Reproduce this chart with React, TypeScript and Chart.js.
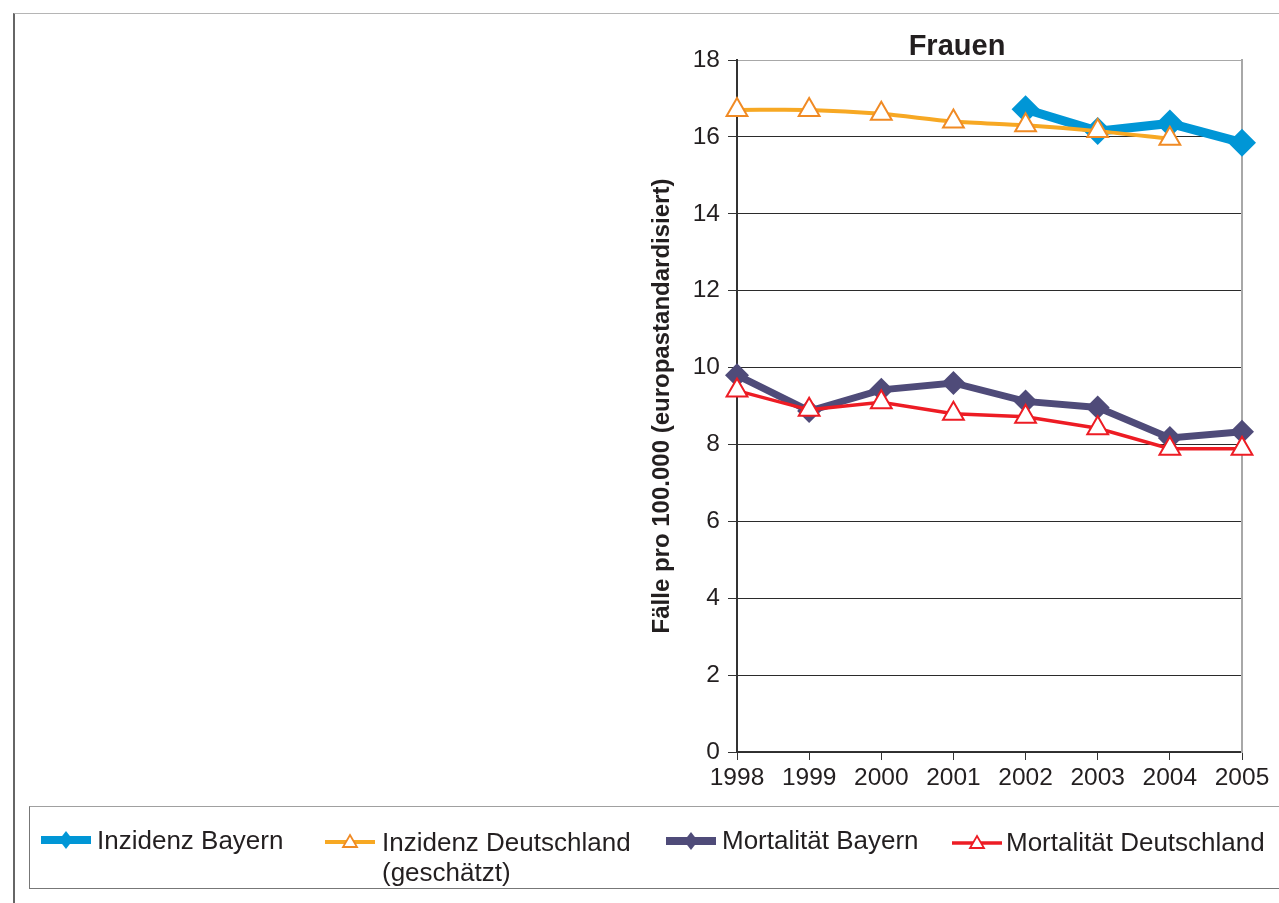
import React, { useEffect, useRef } from 'react';
import { Chart, registerables } from 'chart.js';

Chart.register(...registerables);

const years = ['1998', '1999', '2000', '2001', '2002', '2003', '2004', '2005'];
const inzidenzBayern = [null, null, null, null, 16.72, 16.15, 16.35, 15.85];
const inzidenzDeutschland = [16.7, 16.7, 16.6, 16.4, 16.3, 16.15, 15.95, null];
const mortalitaetBayern = [9.8, 8.87, 9.42, 9.6, 9.12, 8.96, 8.17, 8.33];
const mortalitaetDeutschland = [9.4, 8.9, 9.1, 8.8, 8.72, 8.42, 7.89, 7.89];
const seriesNames = [
  'Inzidenz Bayern',
  'Inzidenz Deutschland (geschätzt)',
  'Mortalität Bayern',
  'Mortalität Deutschland',
];
const titleText = 'Frauen';
const yTitle = 'Fälle pro 100.000 (europastandardisiert)';

const FONT = '"Liberation Sans", Arial, Helvetica, sans-serif';
const TEXT = '#231f20';
const BLUE = '#0096d6';
const ORANGE_LINE = '#f7a823';
const ORANGE_MARK = '#f08a24';
const PURPLE = '#4f4b79';
const RED = '#ed1c24';

function Sample({ color, width, marker, markerColor }: { color: string; width: number; marker: 'diamond' | 'triangle'; markerColor: string }) {
  return (
    <svg width={50} height={24} viewBox="0 0 50 24" style={{ display: 'block' }}>
      <line x1={0} y1={12} x2={50} y2={12} stroke={color} strokeWidth={width} />
      {marker === 'diamond' ? (
        <polygon points="25,3 32,12 25,21 18,12" fill={markerColor} />
      ) : (
        <polygon points="25,5 32,17 18,17" fill="#fff" stroke={markerColor} strokeWidth={1.8} />
      )}
    </svg>
  );
}

export default function App() {
  const ref = useRef<HTMLCanvasElement>(null);

  useEffect(() => {
    const canvas = ref.current;
    if (!canvas) return;
    const chart = new Chart(canvas, {
      type: 'line',
      data: {
        labels: years,
        datasets: [
          {
            label: seriesNames[0],
            data: inzidenzBayern,
            borderColor: BLUE,
            backgroundColor: BLUE,
            borderWidth: 9,
            pointStyle: 'rectRot',
            pointRadius: 14,
            pointBackgroundColor: BLUE,
            pointBorderColor: BLUE,
            pointBorderWidth: 0,
            tension: 0,
            order: 4,
            clip: false,
          },
          {
            label: seriesNames[1],
            data: inzidenzDeutschland,
            borderColor: ORANGE_LINE,
            backgroundColor: '#ffffff',
            borderWidth: 4,
            pointStyle: 'triangle',
            pointRadius: 12,
            pointBackgroundColor: '#ffffff',
            pointBorderColor: ORANGE_MARK,
            pointBorderWidth: 2,
            tension: 0.3,
            order: 2,
            clip: false,
          },
          {
            label: seriesNames[2],
            data: mortalitaetBayern,
            borderColor: PURPLE,
            backgroundColor: PURPLE,
            borderWidth: 7,
            pointStyle: 'rectRot',
            pointRadius: 12,
            pointBackgroundColor: PURPLE,
            pointBorderColor: PURPLE,
            pointBorderWidth: 0,
            tension: 0,
            order: 3,
            clip: false,
          },
          {
            label: seriesNames[3],
            data: mortalitaetDeutschland,
            borderColor: RED,
            backgroundColor: '#ffffff',
            borderWidth: 3.5,
            pointStyle: 'triangle',
            pointRadius: 12,
            pointBackgroundColor: '#ffffff',
            pointBorderColor: RED,
            pointBorderWidth: 2,
            tension: 0,
            order: 1,
            clip: false,
          },
        ],
      },
      options: {
        responsive: false,
        animation: false,
        devicePixelRatio: 1,
        layout: { padding: { left: 648, right: 37, top: 60, bottom: 101 } },
        plugins: {
          legend: { display: false },
          tooltip: { enabled: false },
          title: { display: false },
        },
        scales: {
          x: {
            type: 'category',
            offset: false,
            grid: {
              drawOnChartArea: false,
              drawTicks: true,
              tickLength: 8,
              tickColor: '#333333',
              tickWidth: 1,
            },
            border: { color: '#333333', width: 1.5 },
            ticks: {
              font: { size: 24.5, family: FONT },
              color: TEXT,
              padding: 4,
              maxRotation: 0,
              autoSkip: false,
            },
            afterFit: (s: any) => {
              s.height = 50;
            },
          },
          y: {
            min: 0,
            max: 18,
            ticks: {
              stepSize: 2,
              font: { size: 24.5, family: FONT },
              color: TEXT,
              padding: 8,
            },
            grid: {
              color: (ctx: any) => (ctx.tick && ctx.tick.value === 18 ? '#a8a8a8' : '#2b2b2b'),
              lineWidth: 1,
              tickLength: 9,
              tickColor: '#333333',
              tickWidth: 1,
            },
            border: { color: '#333333', width: 2 },
            title: {
              display: true,
              text: yTitle,
              font: { size: 24, weight: 'bold', family: FONT },
              color: TEXT,
              padding: 0,
            },
            afterFit: (s: any) => {
              s.width = 89;
            },
          },
          y2: {
            position: 'right',
            min: 0,
            max: 18,
            ticks: { display: false },
            grid: { drawOnChartArea: false, drawTicks: false },
            border: { color: '#a8a8a8', width: 2 },
            afterFit: (s: any) => {
              s.width = 0;
            },
          },
        },
      },
    } as any);
    return () => chart.destroy();
  }, []);

  const legendText: React.CSSProperties = {
    position: 'absolute',
    fontFamily: FONT,
    fontSize: 26,
    lineHeight: '30px',
    color: TEXT,
    whiteSpace: 'nowrap',
  };

  return (
    <div style={{ position: 'absolute', left: 0, top: 0, width: 1279, height: 903, overflow: 'hidden', background: '#fff' }}>
      <div
        style={{
          position: 'absolute',
          left: 13,
          top: 13,
          width: 1300,
          height: 900,
          borderLeft: '2px solid #666666',
          borderTop: '1px solid #b5b5b5',
        }}
      />
      <div
        style={{
          position: 'absolute',
          left: 29,
          top: 806,
          width: 1300,
          height: 81,
          borderTop: '1px solid #a0a0a0',
          borderLeft: '1px solid #777777',
          borderBottom: '1px solid #777777',
        }}
      />
      <canvas ref={ref} width={1279} height={903} style={{ position: 'absolute', left: 0, top: 0, width: 1279, height: 903 }} />
      <div
        style={{
          position: 'absolute',
          left: 857,
          top: 31,
          width: 200,
          textAlign: 'center',
          fontFamily: FONT,
          fontWeight: 'bold',
          fontSize: 29,
          lineHeight: '28px',
          color: TEXT,
        }}
      >
        {titleText}
      </div>

      <div style={{ position: 'absolute', left: 41, top: 828 }}>
        <Sample color={BLUE} width={8} marker="diamond" markerColor={BLUE} />
      </div>
      <div style={{ ...legendText, left: 97, top: 825 }}>{seriesNames[0]}</div>

      <div style={{ position: 'absolute', left: 325, top: 830 }}>
        <Sample color={ORANGE_LINE} width={4} marker="triangle" markerColor={ORANGE_MARK} />
      </div>
      <div style={{ ...legendText, left: 382, top: 827 }}>
        Inzidenz Deutschland
        <br />
        (geschätzt)
      </div>

      <div style={{ position: 'absolute', left: 666, top: 829 }}>
        <Sample color={PURPLE} width={8} marker="diamond" markerColor={PURPLE} />
      </div>
      <div style={{ ...legendText, left: 722, top: 825 }}>{seriesNames[2]}</div>

      <div style={{ position: 'absolute', left: 952, top: 831 }}>
        <Sample color={RED} width={3.5} marker="triangle" markerColor={RED} />
      </div>
      <div style={{ ...legendText, left: 1006, top: 827 }}>{seriesNames[3]}</div>
    </div>
  );
}
